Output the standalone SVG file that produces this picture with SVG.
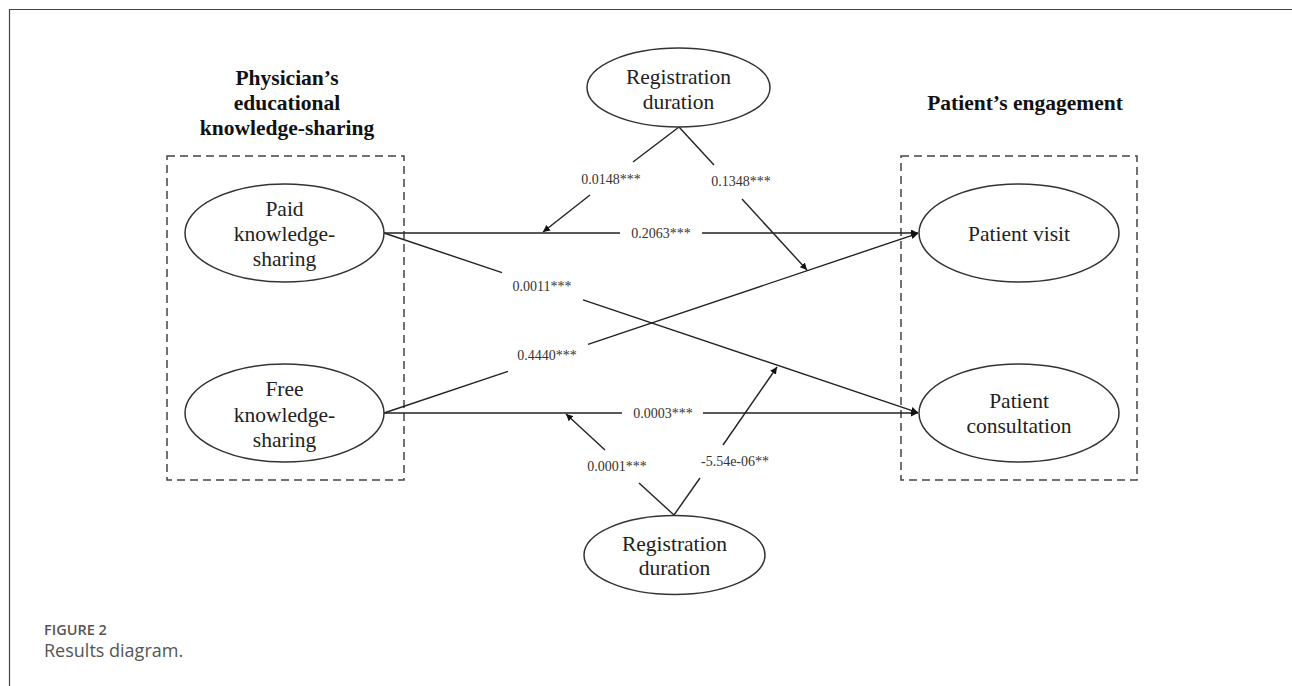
<svg xmlns="http://www.w3.org/2000/svg" width="1292" height="686" viewBox="0 0 1292 686">
<style>
.ell{fill:#fff;stroke:#333;stroke-width:1.5}
.box{fill:none;stroke:#444;stroke-width:1.5;stroke-dasharray:8,5}
.t{font-family:"Liberation Serif","Times New Roman",serif;font-size:21.5px;fill:#222;text-anchor:middle}
.h{font-family:"Liberation Serif","Times New Roman",serif;font-size:21.5px;font-weight:bold;fill:#111;text-anchor:middle}
.l{font-family:"Liberation Serif","Times New Roman",serif;font-size:14px;fill:#333;text-anchor:middle}
.c{fill:none;stroke:#222;stroke-width:1.4}
.a{fill:none;stroke:#222;stroke-width:1.4;marker-end:url(#ah)}
</style>
<defs>
<marker id="ah" viewBox="0 0 10 10" refX="10" refY="5" markerWidth="7" markerHeight="7" markerUnits="userSpaceOnUse" orient="auto">
<path d="M0,0 L10,5 L0,10 z" fill="#111"/>
</marker>
</defs>
<rect width="1292" height="686" fill="#fff"/>
<g id="frame">
<path d="M9.5,686 V9.5 H1292" fill="none" stroke="#444" stroke-width="1.2"/>
</g>
<g id="group-left">
<text class="h" x="287" y="85">Physician’s</text>
<text class="h" x="287" y="110">educational</text>
<text class="h" x="287" y="135">knowledge-sharing</text>
<rect class="box" x="167" y="156" width="237" height="324"/>
</g>
<g id="group-right">
<text class="h" x="1025" y="110">Patient’s engagement</text>
<rect class="box" x="901" y="156" width="236" height="324"/>
</g>
<g id="connectors">
<path class="c" d="M384,233 H620"/>
<path class="a" d="M702,233 H918"/>
<text class="l" x="661" y="238">0.2063***</text>
<path class="c" d="M384,233 L502,272.6"/>
<path class="a" d="M583,299.8 L918,412.6"/>
<text class="l" x="542" y="291">0.0011***</text>
<path class="c" d="M384,413 L508,371.3"/>
<path class="a" d="M588,344.4 L918,233.4"/>
<text class="l" x="547" y="360">0.4440***</text>
<path class="c" d="M384,413 H622"/>
<path class="a" d="M703,413 H918"/>
<text class="l" x="663" y="418">0.0003***</text>
<path class="c" d="M679,127 L633,162"/>
<path class="a" d="M590,195 L543,232"/>
<text class="l" x="611" y="184">0.0148***</text>
<path class="c" d="M679,127 L714,165"/>
<path class="a" d="M742,199 L807,270"/>
<text class="l" x="741" y="186">0.1348***</text>
<path class="c" d="M674,515 L639,483"/>
<path class="a" d="M605,450 L566,414"/>
<text class="l" x="617" y="471">0.0001***</text>
<path class="c" d="M674,515 L700,478"/>
<path class="a" d="M723,445 L777,367"/>
<text class="l" x="735" y="466">-5.54e-06**</text>
</g>
<g id="paid">
<ellipse class="ell" cx="284.5" cy="233" rx="99.5" ry="49"/>
<text class="t" x="284.5" y="216">Paid</text>
<text class="t" x="284.5" y="241">knowledge-</text>
<text class="t" x="284.5" y="266">sharing</text>
</g>
<g id="free">
<ellipse class="ell" cx="284.5" cy="413" rx="99.5" ry="49"/>
<text class="t" x="284.5" y="396">Free</text>
<text class="t" x="284.5" y="422">knowledge-</text>
<text class="t" x="284.5" y="447">sharing</text>
</g>
<g id="visit">
<ellipse class="ell" cx="1019" cy="233" rx="100" ry="49"/>
<text class="t" x="1019" y="241">Patient visit</text>
</g>
<g id="consultation">
<ellipse class="ell" cx="1019" cy="413" rx="100" ry="49"/>
<text class="t" x="1019" y="408">Patient</text>
<text class="t" x="1019" y="433">consultation</text>
</g>
<g id="reg-top">
<ellipse class="ell" cx="678.5" cy="87.5" rx="91.5" ry="39.5"/>
<text class="t" x="678.5" y="84">Registration</text>
<text class="t" x="678.5" y="109">duration</text>
</g>
<g id="reg-bottom">
<ellipse class="ell" cx="674.5" cy="555" rx="90.5" ry="39.5"/>
<text class="t" x="674.5" y="551">Registration</text>
<text class="t" x="674.5" y="575">duration</text>
</g>
<g id="caption">
<text x="44" y="635" font-family="'Open Sans','Noto Sans',sans-serif" font-size="14.5" font-weight="600" fill="#555">FIGURE 2</text>
<text x="44" y="657" font-family="'Open Sans','Noto Sans',sans-serif" font-size="18" fill="#555">Results diagram.</text>
</g>
</svg>
